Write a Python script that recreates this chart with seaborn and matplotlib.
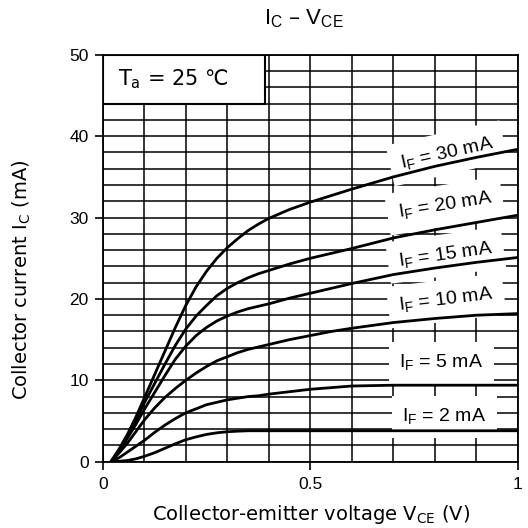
import numpy as np
import pandas as pd
import matplotlib
matplotlib.use("Agg")
import matplotlib.pyplot as plt
from matplotlib.patches import Rectangle
from matplotlib.ticker import MultipleLocator
import seaborn as sns

# Values
vce = [0.02, 0.04, 0.06, 0.08, 0.1, 0.125, 0.15, 0.175, 0.2, 0.225, 0.25, 0.275,
       0.3, 0.325, 0.35, 0.375, 0.4, 0.45, 0.5, 0.55, 0.6, 0.7, 0.8, 0.9, 1.0]
ic_30 = [0, 1.6, 3.4, 5.5, 7.8, 10.7, 13.6, 16.5, 19.2, 21.5, 23.4, 25.0,
         26.3, 27.4, 28.4, 29.2, 29.9, 31.0, 31.9, 32.7, 33.5, 35.0, 36.3, 37.4, 38.4]
ic_20 = [0, 1.5, 3.2, 5.1, 7.2, 9.6, 12.0, 14.3, 16.3, 17.9, 19.2, 20.4,
         21.3, 22.0, 22.6, 23.1, 23.5, 24.3, 25.0, 25.6, 26.2, 27.5, 28.5, 29.4, 30.3]
ic_15 = [0, 1.3, 2.9, 4.6, 6.4, 8.5, 10.6, 12.6, 14.2, 15.5, 16.5, 17.3,
         17.9, 18.4, 18.8, 19.1, 19.4, 20.1, 20.7, 21.3, 21.9, 23.0, 23.8, 24.5, 25.1]
ic_10 = [0, 1.1, 2.3, 3.7, 5.1, 6.6, 7.9, 9.0, 10.0, 10.9, 11.7, 12.4,
         12.9, 13.4, 13.8, 14.1, 14.4, 15.0, 15.5, 16.0, 16.4, 17.1, 17.6, 18.0, 18.2]
ic_5 = [0, 0.5, 1.2, 1.9, 2.6, 3.6, 4.5, 5.3, 6.0, 6.5, 7.0, 7.3,
        7.6, 7.8, 8.0, 8.1, 8.3, 8.6, 8.9, 9.1, 9.3, 9.4, 9.4, 9.4, 9.4]
ic_2 = [0, 0.05, 0.15, 0.35, 0.65, 1.1, 1.65, 2.2, 2.7, 3.05, 3.35, 3.55,
        3.68, 3.75, 3.8, 3.8, 3.8, 3.8, 3.8, 3.8, 3.8, 3.8, 3.8, 3.8, 3.8]

curve_names = ["30 mA", "20 mA", "15 mA", "10 mA", "5 mA", "2 mA"]
curve_values = [ic_30, ic_20, ic_15, ic_10, ic_5, ic_2]

# label placement (V, I, angle)
label_pos = [(0.829, 37.9, 12.5), (0.824, 31.45, 9), (0.826, 25.4, 8),
             (0.827, 19.8, 7), (0.816, 12.1, 0), (0.823, 5.5, 0)]

rows = []
for name, vals in zip(curve_names, curve_values):
    for v, i in zip(vce, vals):
        rows.append({"VCE": v, "IC": i, "IF": name})
df = pd.DataFrame(rows)

sns.set_theme(style="white")
plt.rcParams["font.family"] = ["Liberation Sans", "DejaVu Sans"]
plt.rcParams["mathtext.fontset"] = "dejavusans"
plt.rcParams["text.color"] = "black"
plt.rcParams["axes.labelcolor"] = "black"
plt.rcParams["xtick.color"] = "black"
plt.rcParams["ytick.color"] = "black"

fig = plt.figure(figsize=(5.28, 5.28), dpi=100)
ax = fig.add_axes([0.1945, 0.1256, 0.7865, 0.7705])

sns.lineplot(data=df, x="VCE", y="IC", hue="IF", palette=["black"] * 6,
             linewidth=2.0, legend=False, ax=ax, zorder=4)

ax.set_xlim(0, 1)
ax.set_ylim(0, 50)
ax.xaxis.set_minor_locator(MultipleLocator(0.1))
ax.yaxis.set_major_locator(MultipleLocator(10))
ax.yaxis.set_minor_locator(MultipleLocator(2))
ax.set_xticks([0, 0.5, 1])
ax.set_xticklabels(["0", "0.5", "1"])
ax.grid(True, which="both", color="black", linewidth=1.1)
ax.set_axisbelow(True)
ax.tick_params(which="major", direction="out", length=6, width=1.2,
               color="black", labelsize=12.5, bottom=True, left=True)
ax.tick_params(axis="x", pad=5)
ax.tick_params(axis="y", pad=4)
ax.tick_params(which="minor", length=0)
for s in ax.spines.values():
    s.set_color("black")
    s.set_linewidth(1.3)

ax.set_xlabel(r"Collector-emitter voltage V$_\mathregular{CE}$ (V)",
              family="DejaVu Sans", fontsize=14, va="center")
ax.xaxis.set_label_coords(0.501, -0.129)
ax.set_ylabel(r"Collector current I$_\mathregular{C}$ (mA)",
              family="DejaVu Sans", fontsize=14, va="center")
ax.yaxis.set_label_coords(-0.194, 0.447)

fig.text(0.576, 0.965, r"$\mathregular{I_C}$ – $\mathregular{V_{CE}}$",
         ha="center", va="center", fontsize=16)

# ambient temperature box
ax.add_patch(Rectangle((0, 44), 0.39, 6, facecolor="white", edgecolor="black",
                       linewidth=1.5, zorder=3))
ax.text(0.17, 47.0, "T$_\\mathregular{a}$ = 25 ℃", family=["DejaVu Sans"],
        fontsize=15, ha="center", va="center", zorder=5)

for name, (x, y, ang) in zip(curve_names, label_pos):
    ax.text(x, y, r"I$_\mathregular{F}$ = " + name, fontsize=14,
            ha="center", va="center", rotation=ang, rotation_mode="anchor",
            zorder=3,
            bbox=dict(boxstyle="square,pad=0.55", fc="white", ec="none"))

fig.savefig("out.png", dpi=100)
